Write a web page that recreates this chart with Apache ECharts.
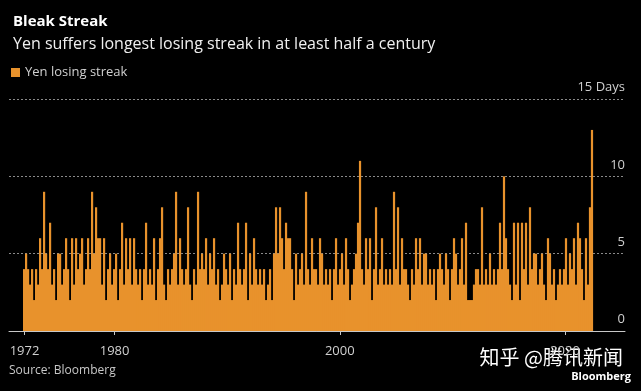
<!DOCTYPE html>
<html><head><meta charset="utf-8">
<script src="https://cdn.jsdelivr.net/npm/echarts@6/dist/echarts.min.js"></script>
<style>html,body{margin:0;padding:0;background:#000}#c{width:641px;height:391px}</style>
</head><body><div id="c"></div>
<script>
const titleText = 'Bleak Streak';
const subtitleText = 'Yen suffers longest losing streak in at least half a century';
const seriesName = 'Yen losing streak';
const sourceText = 'Source: Bloomberg';
const yearTicks = [1972, 1980, 2000, 2020];
// each value = longest yen losing streak (days) within a ~2-month period
const firstPeriod = 1971.96;
const periodLength = 0.1776;
const streakDays = [
 4,5,4,3,4,2,4,3,6,4, 9,5,4,7,3,4,2,5,5,3,
 4,6,4,2,6,3,6,4,5,6, 3,4,6,4,9,5,8,6,6,3,
 6,2,4,5,3,4,5,2,4,7, 3,6,4,6,3,6,4,3,4,2,
 4,7,3,4,3,6,2,4,6,8, 3,2,4,3,4,5,9,3,6,4,
 3,4,8,3,2,4,3,9,4,5, 4,6,3,5,4,6,3,4,2,3,
 5,4,3,5,2,4,3,7,4,3, 4,7,2,5,3,6,4,3,4,3,
 4,2,3,4,2,5,8,5,8,6, 4,7,6,6,4,2,5,3,4,5,
 3,9,4,3,6,4,4,3,6,5, 3,4,3,4,2,4,6,3,4,5,
 3,6,4,2,3,4,5,7,11,4, 3,6,4,6,2,4,8,3,4,6,
 3,4,3,4,3,9,4,8,3,6, 4,4,3,2,4,3,6,4,6,3,
 5,5,3,4,3,4,2,4,5,4, 3,5,4,2,4,6,5,3,4,6,
 3,7,2,2,2,3,4,4,3,8, 3,4,3,5,3,4,3,4,7,4,
 10,6,4,3,2,7,3,7,2,7, 4,7,3,8,4,5,5,3,4,5,
 3,2,6,5,3,4,2,3,4,3, 4,6,3,5,4,6,3,7,6,4,
 2,6,3,8,13
];
const barData = streakDays.map((v, i) => [firstPeriod + i * periodLength, v]);

const FONT = '"Open Sans", "Liberation Sans", sans-serif';
const chart = echarts.init(document.getElementById('c'), null, {renderer: 'canvas'});
chart.setOption({
  backgroundColor: '#000',
  animation: false,
  textStyle: {fontFamily: FONT},
  title: [
    {text: titleText, left: 8, top: 9, textStyle: {color: '#fff', fontSize: 15, fontWeight: 'bold', fontFamily: FONT}},
    {text: subtitleText, left: 8, top: 31, textStyle: {color: '#f0f0f0', fontSize: 16, fontWeight: 'normal', fontFamily: FONT}}
  ],
  legend: {
    left: 6, top: 61, icon: 'rect', itemWidth: 9, itemHeight: 9, itemGap: 5,
    textStyle: {color: '#d0d0d0', fontSize: 13, fontFamily: FONT},
    data: [seriesName]
  },
  grid: {left: 9, right: 16, top: 99, bottom: 60},
  xAxis: {
    type: 'value', min: 1970.62, max: 2025.33,
    axisLine: {show: true, lineStyle: {color: '#c8c8c8', width: 1}},
    axisTick: {show: true, customValues: yearTicks, length: 4, lineStyle: {color: '#c8c8c8'}},
    axisLabel: {customValues: yearTicks, color: '#d0d0d0', fontSize: 13, margin: 14, fontFamily: FONT,
      formatter: v => String(Math.round(v))},
    splitLine: {show: false}
  },
  yAxis: {
    type: 'value', position: 'right', min: 0, max: 15, interval: 5,
    axisLine: {show: false}, axisTick: {show: false},
    axisLabel: {
      inside: true, color: '#d0d0d0', fontSize: 13, fontFamily: FONT,
      verticalAlign: 'bottom', padding: [0, 0, 5, 0], margin: 0,
      formatter: v => v === 15 ? '15 Days' : String(v)
    },
    splitLine: {show: true, lineStyle: {color: '#8a8a8a', type: [2, 2], width: 1}}
  },
  series: [{
    name: seriesName, type: 'bar', data: barData, barWidth: 2.2,
    itemStyle: {color: '#e8922c'}, large: false
  }],
  graphic: [
    {type: 'text', left: 9, top: 365, style: {text: sourceText, fill: '#c8c8c8', font: '12px ' + FONT}},
    {type: 'text', right: 18, top: 347, style: {text: '知乎 @腾讯新闻', fill: '#ffffff', font: '20px "Noto Sans CJK SC"'}},
    {type: 'text', right: 10, top: 371, style: {text: 'Bloomberg', fill: '#ffffff', font: 'bold 11px ' + FONT}}
  ]
});
</script></body></html>
